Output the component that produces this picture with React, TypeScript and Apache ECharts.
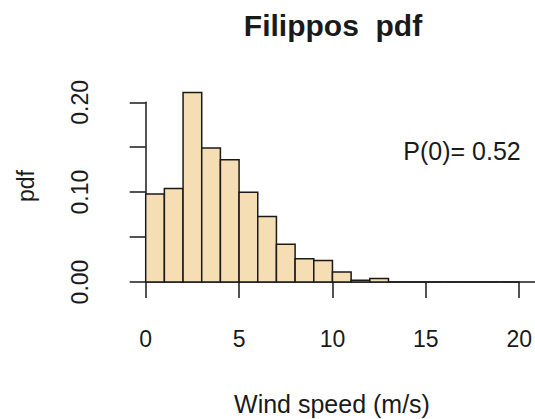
import React, { useEffect, useRef } from 'react';
import * as echarts from 'echarts';

const binEdges = [0, 1, 2, 3, 4, 5, 6, 7, 8, 9, 10, 11, 12, 13, 14, 15, 16, 17, 18, 19, 20, 21];
const density = [0.098, 0.104, 0.211, 0.149, 0.136, 0.1, 0.073, 0.042, 0.026, 0.024, 0.011, 0.002, 0.004, 0, 0, 0, 0, 0, 0, 0, 0];
const xTicks = [0, 5, 10, 15, 20];
const yTickLabels = ['0.00', '0.10', '0.20'];
const titleText = 'Filippos  pdf';
const xLabel = 'Wind speed (m/s)';
const yLabel = 'pdf';
const annotation = 'P(0)= 0.52';

const FONT = '"Liberation Sans", Arial, sans-serif';
const INK = '#1a1a1a';

export default function App() {
  const ref = useRef<HTMLDivElement>(null);
  useEffect(() => {
    if (!ref.current) return;
    const chart = echarts.init(ref.current, undefined, { renderer: 'svg' });
    const bins = density.map((d, i) => [binEdges[i], binEdges[i + 1], d]);
    chart.setOption({
      animation: false,
      backgroundColor: '#ffffff',
      title: {
        text: titleText,
        left: 328,
        top: 5,
        textAlign: 'center',
        textStyle: { fontFamily: FONT, fontSize: 30, fontWeight: 'bold', color: INK },
      },
      grid: { left: 145.7, right: 15.3, top: 102.3, bottom: 137 },
      xAxis: {
        type: 'value',
        min: xTicks[0],
        max: xTicks[xTicks.length - 1],
        interval: 5,
        offset: 8,
        splitLine: { show: false },
        axisLine: { show: true, lineStyle: { color: INK, width: 1.5 } },
        axisTick: { show: true, length: 16, lineStyle: { color: INK, width: 1.5 } },
        axisLabel: { fontFamily: FONT, fontSize: 23, color: INK, margin: 37 },
      },
      yAxis: {
        type: 'value',
        min: 0,
        max: 0.2,
        interval: 0.05,
        offset: 14,
        splitLine: { show: false },
        axisLine: { show: true, lineStyle: { color: INK, width: 1.5 } },
        axisTick: { show: true, length: 16, lineStyle: { color: INK, width: 1.5 } },
        axisLabel: {
          fontFamily: FONT,
          fontSize: 23,
          color: INK,
          rotate: 90,
          margin: 40,
          formatter: (v: number) => {
            const s = v.toFixed(2);
            return yTickLabels.includes(s) ? s : '';
          },
        },
      },
      graphic: [
        {
          type: 'text',
          x: 332,
          y: 404,
          style: { text: xLabel, fontFamily: FONT, fontSize: 25, fill: INK, textAlign: 'center', textVerticalAlign: 'middle' },
        },
        {
          type: 'text',
          x: 26,
          y: 186,
          rotation: Math.PI / 2,
          style: { text: yLabel, fontFamily: FONT, fontSize: 23, fill: INK, textAlign: 'center', textVerticalAlign: 'middle' },
        },
        {
          type: 'text',
          x: 462,
          y: 151,
          style: { text: annotation, fontFamily: FONT, fontSize: 25, fill: INK, textAlign: 'center', textVerticalAlign: 'middle' },
        },
      ],
      series: [
        {
          type: 'custom',
          clip: false,
          encode: { x: [0, 1], y: 2 },
          data: bins,
          renderItem: (params: any, api: any) => {
            const x0 = api.value(0);
            const x1 = api.value(1);
            const h = api.value(2);
            const p0 = api.coord([x0, 0]);
            const p1 = api.coord([x1, h]);
            if (h > 0) {
              return {
                type: 'rect',
                shape: { x: p0[0], y: p1[1], width: p1[0] - p0[0], height: p0[1] - p1[1] },
                style: { fill: '#F5DEB3', stroke: INK, lineWidth: 1.5 },
              };
            }
            return {
              type: 'line',
              shape: { x1: p0[0], y1: p0[1], x2: p1[0], y2: p0[1] },
              style: { stroke: INK, lineWidth: 1.5 },
            };
          },
        },
      ],
    });
    return () => chart.dispose();
  }, []);
  return <div ref={ref} style={{ position: 'absolute', left: 0, top: 0, width: 535, height: 419 }} />;
}
